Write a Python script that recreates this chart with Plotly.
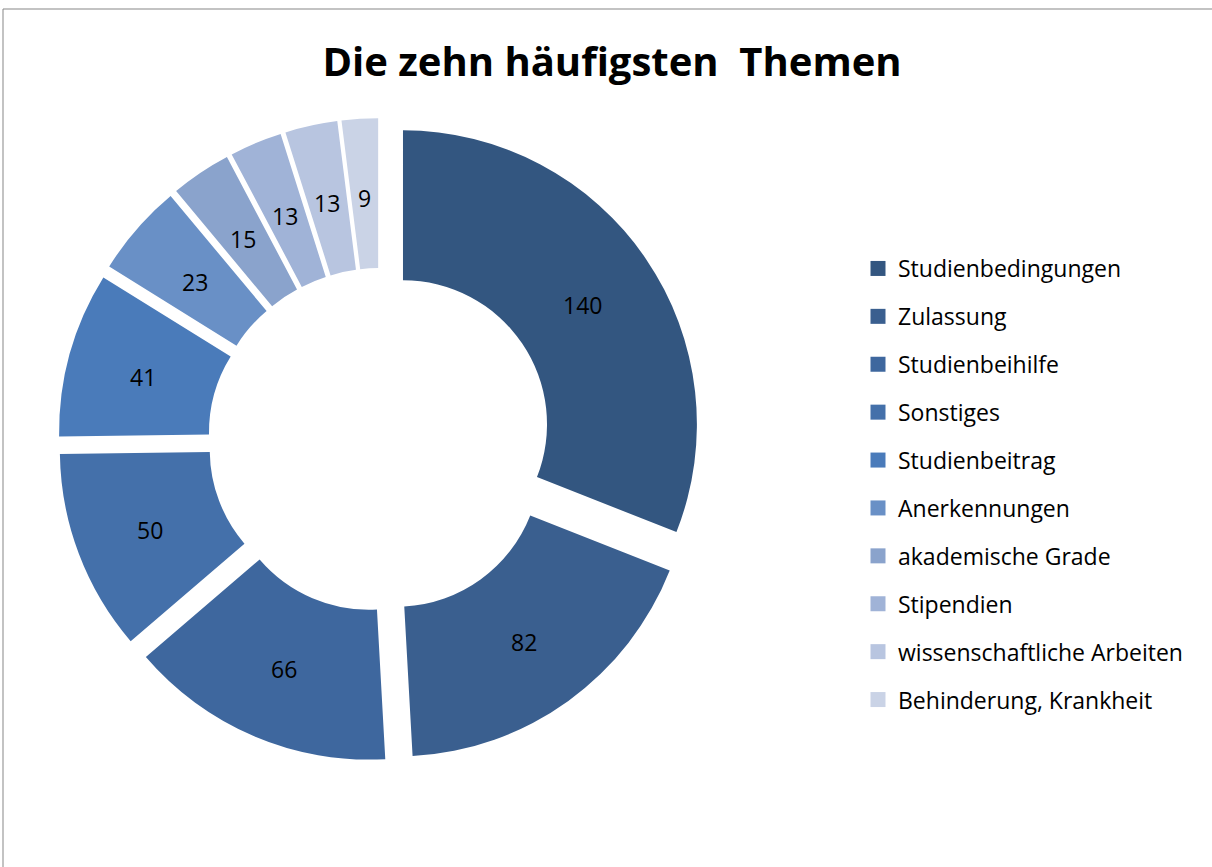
import math
import plotly.graph_objects as go

labels = ["Studienbedingungen", "Zulassung", "Studienbeihilfe", "Sonstiges", "Studienbeitrag",
          "Anerkennungen", "akademische Grade", "Stipendien", "wissenschaftliche Arbeiten",
          "Behinderung, Krankheit"]
values = [140, 82, 66, 50, 41, 23, 15, 13, 13, 9]
colors = ["#335680", "#3A5F8F", "#3E679E", "#4470AA", "#4A7BBA",
          "#6990C6", "#8AA3CC", "#A0B3D7", "#B8C5E0", "#CAD3E6"]

FONT = "Open Sans"
PULL = 0.095
HOLE = 0.49
LABEL_R = 0.835
DOM_X = [0.0479, 0.579]
DOM_Y = [0.1211, 0.8639]

total = sum(values)
cum = 0
mid_rad = []
for v in values:
    mid_rad.append((cum + v / 2) / total * 2 * math.pi)
    cum += v

fig = go.Figure()
fig.add_trace(go.Pie(
    labels=labels, values=values, sort=False, direction="clockwise", rotation=0,
    hole=HOLE, pull=[PULL] * len(values),
    marker=dict(colors=colors, line=dict(width=0)),
    textinfo="none", hoverinfo="label+value",
    domain=dict(x=DOM_X, y=DOM_Y), showlegend=False,
))

for i, (lab, col) in enumerate(zip(labels, colors)):
    fig.add_trace(go.Scatter(
        x=[None], y=[None], mode="markers", name=lab, legendgroup=f"g{i}",
        marker=dict(symbol="square", size=15, color=col),
        showlegend=True,
    ))

# value labels: placed on hidden axes sharing the pie's geometry (units of pie radius)
annotations = [
    dict(x=LABEL_R * math.sin(a), y=LABEL_R * math.cos(a), xref="x", yref="y",
         text=str(v), showarrow=False, yshift=-3,
         font=dict(family=FONT, size=23, color="black"))
    for v, a in zip(values, mid_rad)
]

fig.update_layout(
    width=1212, height=867,
    margin=dict(l=0, r=0, t=0, b=0),
    paper_bgcolor="white", plot_bgcolor="rgba(0,0,0,0)",
    title=dict(text="<b>Die zehn häufigsten  Themen</b>", x=0.505, xanchor="center",
               y=1 - 62 / 867, yanchor="middle", yref="container",
               font=dict(family=FONT, size=40, color="black")),
    xaxis=dict(visible=False, domain=DOM_X, range=[-(1 + PULL), 1 + PULL]),
    yaxis=dict(visible=False, domain=DOM_Y, range=[-(1 + PULL), 1 + PULL]),
    annotations=annotations,
    legend=dict(x=858 / 1212, xanchor="left", y=1 - 247 / 867, yanchor="top",
                font=dict(family=FONT, size=23, color="black"),
                tracegroupgap=15, bgcolor="rgba(0,0,0,0)"),
    shapes=[dict(type="rect", xref="paper", yref="paper",
                 x0=3 / 1212, x1=1.02, y0=-0.02, y1=1 - 9 / 867,
                 line=dict(color="#878787", width=1))],
)

fig.write_html("out.html", config={"displayModeBar": False},
               post_script="document.body.style.margin='0';")
